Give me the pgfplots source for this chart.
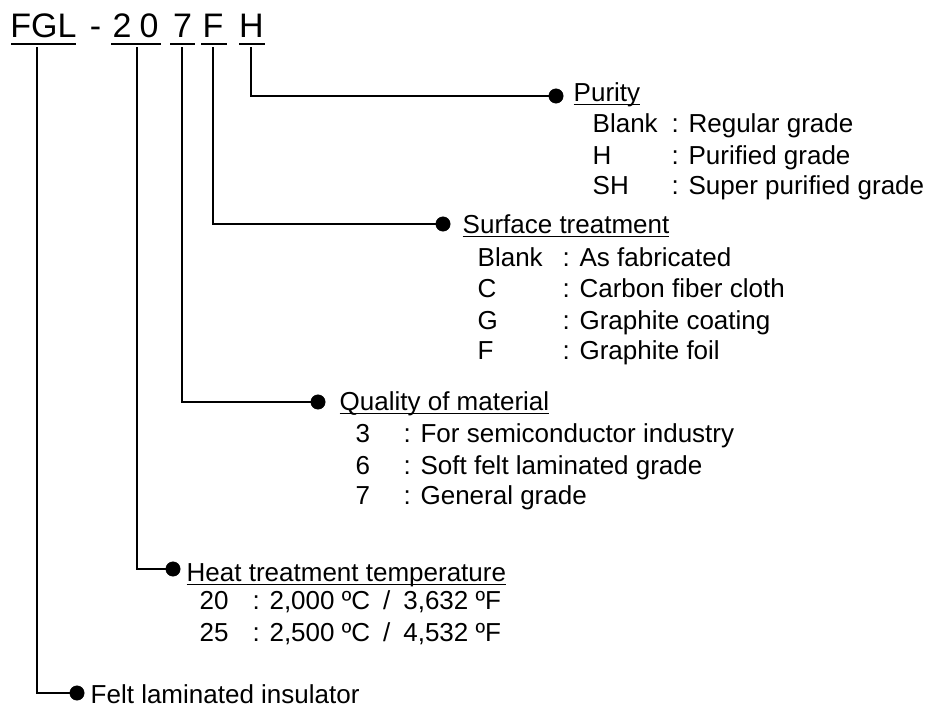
\documentclass[border=0pt]{standalone}
\usepackage{fontspec}
\setmainfont{Liberation Sans}
\usepackage{pgfplots}
\pgfplotsset{compat=1.18}
\newcommand{\lab}{\fontsize{19.5pt}{23pt}\selectfont}
\newcommand{\hdr}{\fontsize{25.5pt}{30pt}\selectfont}
\newsavebox{\ulbox}
\newcommand{\ul}[1]{\sbox{\ulbox}{#1}\rlap{\rule[-3pt]{\wd\ulbox}{1.1pt}}\usebox{\ulbox}}
\begin{document}
\begin{tikzpicture}
\begin{axis}[
  scale only axis, width=700.5pt, height=530.25pt,
  xmin=0, xmax=934, ymin=0, ymax=707, y dir=reverse,
  hide axis, clip=false,
  every node/.style={inner sep=0pt, outer sep=0pt},
]
% connector lines
\addplot[black, line width=1.5pt, line join=miter] coordinates {(37,47) (37,693) (77,693)};
\addplot[black, line width=1.5pt, line join=miter] coordinates {(137,47) (137,569) (173,569)};
\addplot[black, line width=1.5pt, line join=miter] coordinates {(182,47) (182,402) (318,402)};
\addplot[black, line width=1.5pt, line join=miter] coordinates {(213,47) (213,224) (443,224)};
\addplot[black, line width=1.5pt, line join=miter] coordinates {(251,47) (251,96) (556,96)};
% dots
\addplot[only marks, mark=*, mark size=5.4pt, black] coordinates {(77,693) (173,569) (318,402) (443,224) (556,96)};
% header underlines
\addplot[black, line width=1.5pt] coordinates {(11,44) (76,44)};
\addplot[black, line width=1.5pt] coordinates {(111,44) (161,44)};
\addplot[black, line width=1.5pt] coordinates {(170,44) (195,44)};
\addplot[black, line width=1.5pt] coordinates {(201,44) (227,44)};
\addplot[black, line width=1.5pt] coordinates {(239,44) (265,44)};
% header text
\node[anchor=base, font=\hdr] at (axis cs:43.5,37) {FGL};
\node[anchor=base, font=\hdr] at (axis cs:95.5,37) {-};
\node[anchor=base, font=\hdr] at (axis cs:122,37) {2};
\node[anchor=base, font=\hdr] at (axis cs:149,37) {0};
\node[anchor=base, font=\hdr] at (axis cs:182.5,37) {7};
\node[anchor=base, font=\hdr] at (axis cs:213,37) {F};
\node[anchor=base, font=\hdr] at (axis cs:251.5,37) {H};
% Purity
\node[anchor=base west, font=\lab] at (axis cs:569,101) {\ul{Purity}};
\node[anchor=base west, font=\lab] at (axis cs:588,132) {Blank};
\node[anchor=base west, font=\lab] at (axis cs:667,132) {: Regular grade};
\node[anchor=base west, font=\lab] at (axis cs:588,164) {H};
\node[anchor=base west, font=\lab] at (axis cs:667,164) {: Purified grade};
\node[anchor=base west, font=\lab] at (axis cs:588,194) {SH};
\node[anchor=base west, font=\lab] at (axis cs:667,194) {: Super purified grade};
% Surface treatment
\node[anchor=base west, font=\lab] at (axis cs:458,233) {\ul{Surface treatment}};
\node[anchor=base west, font=\lab] at (axis cs:473,266) {Blank};
\node[anchor=base west, font=\lab] at (axis cs:558,266) {: As fabricated};
\node[anchor=base west, font=\lab] at (axis cs:473,297) {C};
\node[anchor=base west, font=\lab] at (axis cs:558,297) {: Carbon fiber cloth};
\node[anchor=base west, font=\lab] at (axis cs:473,329) {G};
\node[anchor=base west, font=\lab] at (axis cs:558,329) {: Graphite coating};
\node[anchor=base west, font=\lab] at (axis cs:473,359) {F};
\node[anchor=base west, font=\lab] at (axis cs:558,359) {: Graphite foil};
% Quality of material
\node[anchor=base west, font=\lab] at (axis cs:335,410) {\ul{Quality of material}};
\node[anchor=base west, font=\lab] at (axis cs:351,442) {3};
\node[anchor=base west, font=\lab] at (axis cs:399,442) {: For semiconductor industry};
\node[anchor=base west, font=\lab] at (axis cs:351,474) {6};
\node[anchor=base west, font=\lab] at (axis cs:399,474) {: Soft felt laminated grade};
\node[anchor=base west, font=\lab] at (axis cs:351,504) {7};
\node[anchor=base west, font=\lab] at (axis cs:399,504) {: General grade};
% Heat treatment temperature
\node[anchor=base west, font=\lab] at (axis cs:182,581) {\ul{Heat treatment temperature}};
\node[anchor=base west, font=\lab] at (axis cs:195,609) {20};
\node[anchor=base west, font=\lab] at (axis cs:248,609) {: 2,000 ºC\enspace/\enspace 3,632 ºF};
\node[anchor=base west, font=\lab] at (axis cs:195,641) {25};
\node[anchor=base west, font=\lab] at (axis cs:248,641) {: 2,500 ºC\enspace/\enspace 4,532 ºF};
% Felt
\node[anchor=base west, font=\lab] at (axis cs:86,703) {Felt laminated insulator};
\coordinate (bl) at (axis cs:0,707);
\coordinate (tr) at (axis cs:934,0);
\end{axis}
\pgfresetboundingbox
\path (bl) rectangle (tr);
\end{tikzpicture}
\end{document}
